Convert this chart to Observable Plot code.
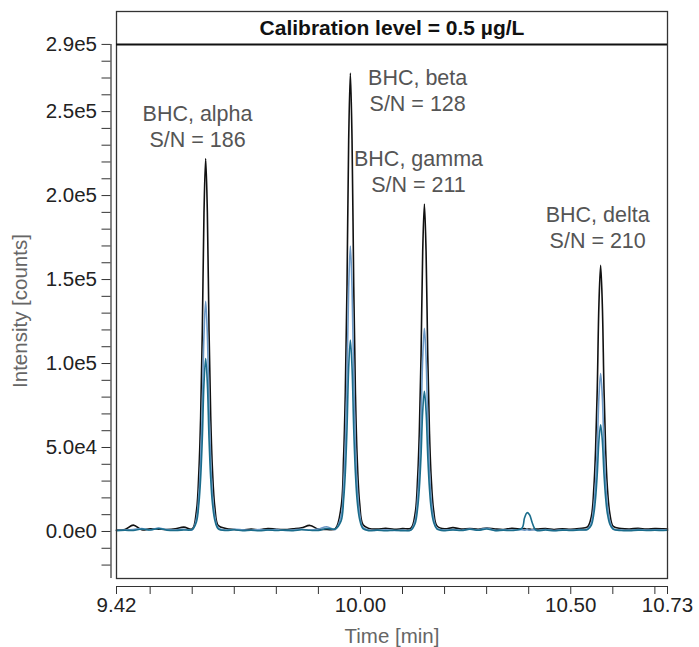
<!DOCTYPE html>
<html><head><meta charset="utf-8">
<script src="https://cdn.jsdelivr.net/npm/d3@7"></script>
<script src="https://cdn.jsdelivr.net/npm/@observablehq/plot@0.6"></script>
<style>
body{margin:0;background:#fff;}
#chart svg{font-family:"Liberation Sans",Arial,Helvetica,sans-serif;}
</style>
</head><body><div id="chart"></div>
<script>
// Retention time (min), shared by all three traces
const time = [
  9.42, 9.44, 9.46, 9.48, 9.50, 9.52, 9.54, 9.56, 9.58, 9.60,
  9.610, 9.616, 9.620, 9.624, 9.628, 9.632, 9.636, 9.640, 9.644, 9.648, 9.654, 9.662,
  9.68, 9.70, 9.72, 9.74, 9.76, 9.78, 9.80, 9.82, 9.84, 9.86, 9.88, 9.90, 9.92, 9.94,
  9.954, 9.960, 9.964, 9.968, 9.972, 9.976, 9.980, 9.984, 9.988, 9.992, 9.998, 10.006,
  10.02, 10.04, 10.06, 10.08, 10.10, 10.12,
  10.130, 10.136, 10.140, 10.144, 10.148, 10.152, 10.156, 10.160, 10.164, 10.168, 10.174, 10.182,
  10.20, 10.22, 10.24, 10.26, 10.28, 10.30, 10.32, 10.34, 10.36,
  10.384, 10.390, 10.396, 10.402, 10.408, 10.414,
  10.42, 10.44, 10.46, 10.48, 10.50, 10.52, 10.54,
  10.549, 10.555, 10.559, 10.563, 10.567, 10.571, 10.575, 10.579, 10.583, 10.587, 10.593, 10.601,
  10.62, 10.64, 10.66, 10.68, 10.70, 10.72, 10.73
];
// Intensity (counts) of the black trace
const blackTrace = [
  800, 1200, 3800, 1000, 1600, 1400, 1200, 1600, 2600, 1500,
  12100, 36500, 67600, 118700, 189700, 222000, 190000, 119500, 68500, 37500, 14000, 3500,
  1800, 1200, 800, 1400, 1000, 1800, 1300, 1100, 1600, 2200, 3600, 1400, 1200, 1600,
  14600, 44700, 82900, 145700, 233000, 273000, 233000, 146500, 83500, 45500, 17000, 4000,
  1800, 1400, 1900, 1300, 1700, 2000,
  10700, 32200, 59500, 104000, 166800, 195000, 166800, 104800, 60000, 33000, 12500, 3300,
  1600, 2300, 1400, 1800, 1300, 2100, 1500, 1200, 1900,
  1400, 1700, 1300, 1500, 1200, 1500,
  1400, 1800, 1200, 1600, 1300, 1800, 2800,
  9000, 26400, 48500, 84900, 135500, 158500, 135500, 85000, 48500, 26400, 10500, 3000,
  1800, 1500, 1900, 1400, 1700, 1600, 1500
];
// Intensity (counts) of the light blue trace
const lightBlueTrace = [
  700, 900, 1200, 1700, 1000, 2000, 1100, 900, 1300, 1000,
  7600, 22700, 41900, 73400, 117300, 137000, 117300, 73400, 41900, 22700, 8700, 2000,
  800, 1300, 1000, 700, 1200, 800, 1100, 600, 900, 1300, 800, 1500, 2800, 1200,
  9200, 27900, 51600, 90600, 145000, 170000, 145000, 90600, 51600, 27900, 10800, 2300,
  900, 700, 1000, 600, 800, 1000,
  6700, 20000, 37000, 64800, 103400, 121000, 103400, 64800, 37000, 20000, 7800, 1900,
  800, 1200, 700, 1500, 900, 1900, 700, 1000, 800,
  1000, 800, 1100, 700, 1000, 900,
  700, 1200, 600, 1000, 800, 1100, 1500,
  5400, 15700, 29000, 50500, 80400, 94000, 80400, 50500, 29000, 15700, 6200, 1600,
  900, 700, 1100, 800, 1000, 900, 800
];
// Intensity (counts) of the teal trace
const tealTrace = [
  500, 700, 600, 1500, 900, 1800, 800, 600, 900, 1200,
  5700, 17000, 31500, 55200, 88100, 103000, 88100, 55000, 31500, 17000, 6500, 1600,
  600, 1000, 500, 700, 400, 900, 600, 800, 500, 1000, 700, 600, 1800, 1500,
  6300, 18900, 34800, 61000, 97500, 114000, 97500, 61000, 34800, 18900, 7300, 1700,
  500, 800, 400, 700, 500, 900,
  4800, 14000, 25800, 45000, 71500, 83500, 71500, 45000, 25800, 14000, 5500, 1400,
  500, 900, 600, 1300, 700, 1500, 500, 800, 600,
  2000, 8000, 11200, 10000, 5500, 1800,
  500, 900, 400, 800, 600, 900, 1200,
  3800, 10800, 19800, 34200, 54300, 63500, 54300, 34200, 19800, 10800, 4300, 1300,
  600, 500, 800, 600, 700, 600, 700
];

// Peak annotations
const peakNames = ["BHC, alpha", "BHC, beta", "BHC, gamma", "BHC, delta"];
const snValues = [186, 128, 211, 210];
const labelTime = [9.6126, 10.136, 10.138, 10.564];
const labelIntensity = [241500, 263000, 214700, 181600];

// Axis ticks
const yMajorTicks = [0, 50000, 100000, 150000, 200000, 250000, 290000];
const yMajorLabels = ["0.0e0", "5.0e4", "1.0e5", "1.5e5", "2.0e5", "2.5e5", "2.9e5"];
const yMinorTicks = [-20000, -10000, 10000, 20000, 30000, 40000, 60000, 70000, 80000, 90000,
  110000, 120000, 130000, 140000, 160000, 170000, 180000, 190000, 210000, 220000, 230000, 240000,
  260000, 270000, 280000];
const xTicks = [9.42, 9.5, 9.6, 9.7, 9.8, 9.9, 10.0, 10.1, 10.2, 10.3, 10.4, 10.5, 10.6, 10.7, 10.73];
const xTickLabels = {"9.42": "9.42", "10": "10.00", "10.5": "10.50", "10.73": "10.73"};

const titleText = "Calibration level = 0.5 µg/L";
const xTitle = "Time [min]";
const yTitle = "Intensity [counts]";

const xDomain = [9.42, 10.73];
const yDomain = [-28000, 309600];

const series = (vals) => time.map((t, i) => ({t, v: vals[i]}));
const labels = peakNames.map((n, i) => ({x: labelTime[i], y: labelIntensity[i], text: `${n}\nS/N = ${snValues[i]}`}));

const fontSize = 20.5;
const chart = Plot.plot({
  width: 699,
  height: 647,
  marginLeft: 116,
  marginRight: 32,
  marginTop: 11,
  marginBottom: 69,
  style: {fontFamily: '"Liberation Sans", Arial, Helvetica, sans-serif', fontSize: fontSize + "px", background: "#fff"},
  x: {domain: xDomain, axis: null},
  y: {domain: yDomain, axis: null},
  marks: [
    // traces
    Plot.line(series(blackTrace), {x: "t", y: "v", stroke: "#111", strokeWidth: 1.6, curve: "catmull-rom"}),
    Plot.line(series(lightBlueTrace), {x: "t", y: "v", stroke: "#6b98c6", strokeWidth: 1.6, curve: "catmull-rom"}),
    Plot.line(series(tealTrace), {x: "t", y: "v", stroke: "#1b6d8c", strokeWidth: 1.6, curve: "catmull-rom"}),
    // annotations
    Plot.text(labels, {x: "x", y: "y", text: "text", fill: "#555", fontSize: 21.5, lineAnchor: "middle", lineHeight: 1.2}),
    // frame + title strip
    Plot.frame({stroke: "#333", strokeWidth: 1.3}),
    Plot.ruleY([yMajorTicks[yMajorTicks.length - 1]], {stroke: "#111", strokeWidth: 2}),
    Plot.text([titleText], {frameAnchor: "top", lineAnchor: "middle", dy: 17, fontWeight: "bold", fontSize: 21, fill: "#111"}),
    // y axis
    Plot.ruleX([xDomain[0]], {y1: yDomain[0], y2: yMajorTicks[yMajorTicks.length - 1], dx: -5.5, stroke: "#333", strokeWidth: 1.2}),
    Plot.axisY(yMajorTicks, {tickSize: 9, dx: -5.5, tickPadding: 5, tickFormat: (d) => yMajorLabels[yMajorTicks.indexOf(d)], label: null, stroke: "#333", fill: "#222", fontSize}),
    Plot.axisY(yMinorTicks, {tickSize: 9, dx: -5.5, tickFormat: () => "", label: null, stroke: "#333"}),
    Plot.text([yTitle], {frameAnchor: "left", textAnchor: "middle", lineAnchor: "middle", rotate: -90, dx: -96, dy: 16, fill: "#666", fontSize}),
    // x axis
    Plot.ruleY([yDomain[0]], {x1: xDomain[0], x2: xDomain[1], dy: 8, stroke: "#333", strokeWidth: 1.2}),
    Plot.axisX(xTicks, {tickSize: 8, dy: 8, tickPadding: 3, tickFormat: (d) => xTickLabels[String(+d.toFixed(2))] ?? "", label: null, stroke: "#333", fill: "#222", fontSize}),
    Plot.text([xTitle], {frameAnchor: "bottom", lineAnchor: "middle", dy: 58, fill: "#666", fontSize})
  ]
});
document.getElementById("chart").append(chart);
</script>
</body></html>
